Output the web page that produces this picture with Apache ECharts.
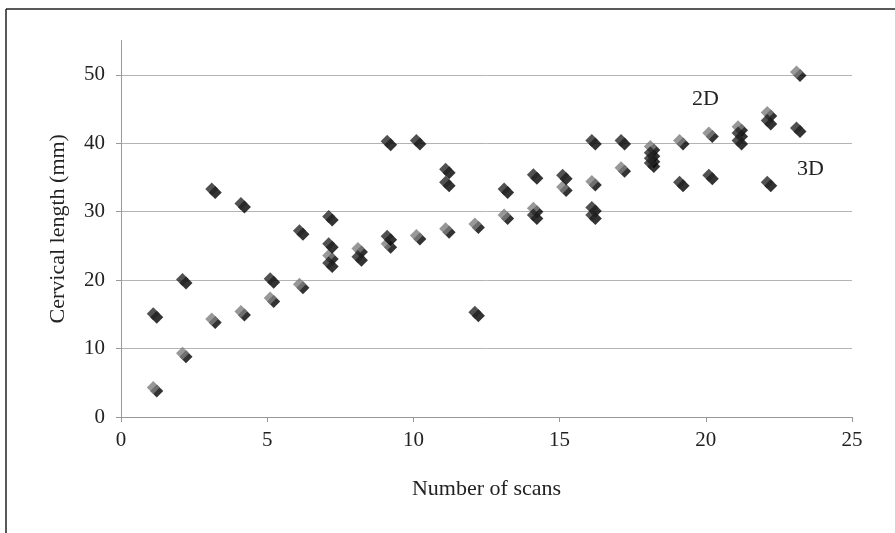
<!DOCTYPE html>
<html>
<head>
<meta charset="utf-8">
<script src="https://cdn.jsdelivr.net/npm/echarts@6/dist/echarts.min.js"></script>
<style>
html,body{margin:0;padding:0;background:#fff;}
#chart{width:895px;height:533px;}
</style>
</head>
<body>
<div id="chart"></div>
<script>
// 2D measurements (grey diamonds): [number of scans, cervical length mm]
const series2D = [
  [1,4.3],[2,9.3],[3,14.3],[4,15.4],[5,17.4],[6,19.4],[7,23.6],[8,24.6],[9,25.3],
  [10,26.5],[11,27.5],[12,28.2],[13,29.5],[14,30.5],[15,33.6],[16,34.4],[17,36.4],
  [18,39.5],[19,40.4],[20,41.5],[21,42.4],[22,44.5],[23,50.4]
];
// 3D measurements (black diamonds)
const series3D = [
  [1,15.1],[2,20.1],[3,33.3],[4,31.2],[5,20.2],[6,27.2],[7,29.3],[7,25.3],[7,22.5],
  [8,23.4],[9,40.3],[9,26.4],[10,40.4],[11,36.2],[11,34.3],[12,15.3],[13,33.3],
  [14,35.4],[14,29.5],[15,35.3],[16,40.4],[16,30.6],[16,29.5],[17,40.4],[18,38.6],
  [18,37.8],[18,37.1],[19,34.3],[20,35.3],[21,41.5],[21,40.4],[22,43.3],[22,34.3],[23,42.2]
];
const xTicks = [0,5,10,15,20,25];
const yTicks = [0,10,20,30,40,50];
const xTitle = 'Number of scans';
const yTitle = 'Cervical length (mm)';
const label2D = '2D';
const label3D = '3D';

const FONT = "'Liberation Serif','Times New Roman',serif";
const TXT = '#222';

const chart = echarts.init(document.getElementById('chart'), null, {renderer:'canvas'});

const markerStyle = (color) => ({
  color: color,
  shadowColor: '#000',
  shadowBlur: 0,
  shadowOffsetX: 3.5,
  shadowOffsetY: 3.5
});

chart.setOption({
  animation: false,
  backgroundColor: '#fff',
  grid: [
    {left:121, right:43, top:40.5, bottom:116, containLabel:false},
    {left:121, right:43, top:74.75, bottom:116, containLabel:false}
  ],
  xAxis: [
    {
      type:'value', gridIndex:0,
      min:xTicks[0], max:xTicks[xTicks.length-1], interval:xTicks[1]-xTicks[0],
      name:xTitle, nameLocation:'middle', nameGap:61,
      nameTextStyle:{fontFamily:FONT, fontSize:22, color:TXT},
      axisLine:{show:true, lineStyle:{color:'#999', width:1}},
      axisTick:{show:true, inside:false, length:5, lineStyle:{color:'#999'}},
      axisLabel:{fontFamily:FONT, fontSize:21, color:TXT, margin:13},
      splitLine:{show:false}
    },
    {
      type:'value', gridIndex:1, show:false,
      min:xTicks[0], max:xTicks[xTicks.length-1]
    }
  ],
  yAxis: [
    {
      type:'value', gridIndex:0, min:0, max:55,
      name:yTitle, nameLocation:'middle', nameGap:52, nameRotate:90,
      nameTextStyle:{fontFamily:FONT, fontSize:22, color:TXT},
      axisLine:{show:true, lineStyle:{color:'#999', width:1}},
      axisTick:{show:false},
      axisLabel:{show:false},
      splitLine:{show:false}
    },
    {
      type:'value', gridIndex:1,
      min:yTicks[0], max:yTicks[yTicks.length-1], interval:yTicks[1]-yTicks[0],
      axisLine:{show:false},
      axisTick:{show:true, inside:false, length:5, lineStyle:{color:'#999'}},
      axisLabel:{fontFamily:FONT, fontSize:21, color:TXT, margin:16},
      splitLine:{show:true, lineStyle:{color:'#b4b4b4', width:1}}
    }
  ],
  series: [
    {
      name:'2D', type:'scatter', xAxisIndex:0, yAxisIndex:0,
      symbol:'diamond', symbolSize:13, symbolOffset:[3,0],
      itemStyle: markerStyle('#7e7e7e'),
      data: series2D, z:3
    },
    {
      name:'3D', type:'scatter', xAxisIndex:0, yAxisIndex:0,
      symbol:'diamond', symbolSize:13, symbolOffset:[3,0],
      itemStyle: markerStyle('#262626'),
      data: series3D, z:4
    }
  ],
  graphic: [
    {type:'line', shape:{x1:6, y1:9, x2:895, y2:9}, style:{stroke:'#222', lineWidth:1.5}, z:10},
    {type:'line', shape:{x1:6, y1:9, x2:6, y2:533}, style:{stroke:'#222', lineWidth:1.5}, z:10},
    {type:'text', left:692, top:88, style:{text:label2D, font:"22px 'Liberation Serif','Times New Roman',serif", fill:TXT}, z:10},
    {type:'text', left:797, top:158, style:{text:label3D, font:"22px 'Liberation Serif','Times New Roman',serif", fill:TXT}, z:10}
  ]
});
</script>
</body>
</html>
